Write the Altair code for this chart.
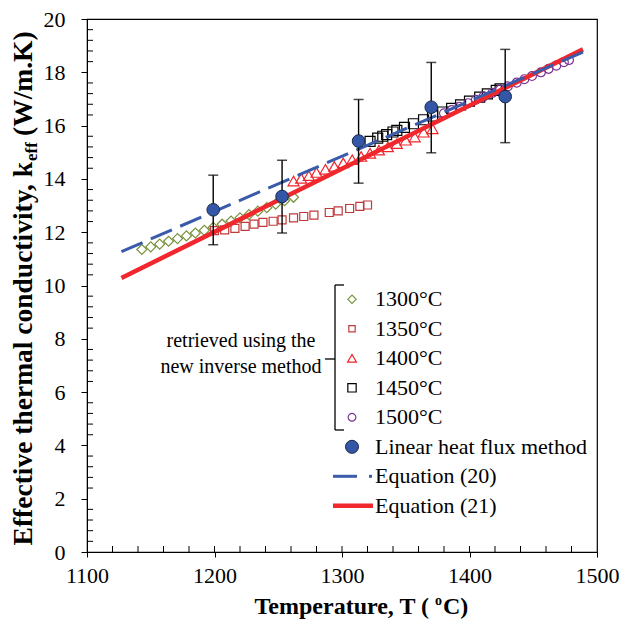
import altair as alt
import pandas as pd

# ---------------- data ----------------
T1300 = [1143, 1150, 1157, 1164, 1171, 1178, 1185, 1192, 1199, 1206, 1213, 1220, 1227, 1234, 1241, 1248, 1255, 1262]
k1300 = [11.35, 11.45, 11.55, 11.66, 11.76, 11.86, 11.97, 12.07, 12.18, 12.30, 12.42, 12.54, 12.66, 12.79, 12.92, 13.05, 13.18, 13.31]

T1350 = [1200, 1208, 1216, 1224, 1231, 1238, 1246, 1253, 1262, 1270, 1278, 1290, 1297, 1306, 1314, 1320]
k1350 = [12.06, 12.09, 12.14, 12.22, 12.30, 12.37, 12.41, 12.46, 12.54, 12.59, 12.64, 12.74, 12.80, 12.89, 12.97, 13.02]

T1400 = [1262, 1268, 1274, 1280, 1287, 1294, 1301, 1308, 1315, 1322, 1329, 1336, 1343, 1350, 1357, 1364, 1371]
k1400 = [13.92, 14.02, 14.12, 14.24, 14.36, 14.47, 14.60, 14.72, 14.84, 14.96, 15.08, 15.20, 15.32, 15.45, 15.57, 15.75, 15.88]

T1450 = [1322, 1328, 1332, 1335, 1340, 1343, 1349, 1356, 1364, 1371, 1379, 1386, 1393, 1400, 1408, 1414, 1421, 1424]
k1450 = [15.41, 15.53, 15.60, 15.66, 15.76, 15.82, 15.93, 16.07, 16.22, 16.36, 16.51, 16.65, 16.78, 16.92, 17.07, 17.19, 17.32, 17.38]

T1500 = [1380, 1386, 1392, 1399, 1405, 1411, 1418, 1424, 1430, 1437, 1443, 1449, 1456, 1462, 1468, 1474, 1478]
k1500 = [16.46, 16.58, 16.70, 16.84, 16.97, 17.09, 17.23, 17.35, 17.47, 17.61, 17.74, 17.86, 18.00, 18.13, 18.25, 18.38, 18.46]

T_lin = [1199, 1253, 1313, 1370, 1428]
k_lin = [12.84, 13.34, 15.42, 16.69, 17.09]
k_lin_lo = [11.53, 11.97, 13.84, 14.98, 15.36]
k_lin_hi = [14.14, 14.70, 16.98, 18.37, 18.86]

T_eq = [1127, 1489]
k_eq20 = [11.27, 18.76]
k_eq21 = [10.28, 18.86]

x_ticks = [1100, 1200, 1300, 1400, 1500]
y_ticks = [0, 2, 4, 6, 8, 10, 12, 14, 16, 18, 20]

leg_labels = ["1300°C", "1350°C", "1400°C", "1450°C", "1500°C",
              "Linear heat flux method", "Equation (20)", "Equation (21)"]

# ---------------- style ----------------
W, H = 510, 533
FONT = "Liberation Serif"
C1300 = "#77933C"
C1350 = "#C0393B"
C1400 = "#F0242A"
C1450 = "#000000"
C1500 = "#7B3294"
CLIN = "#3357A6"
CEQ20 = "#3A5BA9"
CEQ21 = "#F0282D"

xs = alt.Scale(domain=[1100, 1500], nice=False, zero=False)
ys = alt.Scale(domain=[0, 20], nice=False, zero=True)

xaxis = alt.Axis(values=x_ticks, format="d", title=None, grid=False, tickSize=5,
                 tickColor="black", domainColor="black", labelFont=FONT,
                 labelFontSize=22, labelColor="black", labelPadding=8, labelFlush=False)
yaxis = alt.Axis(values=y_ticks, format="d", title=None, grid=False, tickSize=6,
                 tickColor="black", domainColor="black", labelFont=FONT,
                 labelFontSize=22, labelColor="black", labelPadding=16)


def X(f="T"):
    return alt.X(f"{f}:Q", scale=xs, axis=xaxis)


def Y(f="k"):
    return alt.Y(f"{f}:Q", scale=ys, axis=yaxis)


def pts(T, k, **kw):
    return alt.Chart(pd.DataFrame({"T": T, "k": k})).mark_point(opacity=1, **kw).encode(x=X(), y=Y())


one = pd.DataFrame({"a": [0]})

layers = []

# minor ticks (inside)
x_minor = [v for v in range(1120, 1500, 20)]
layers.append(alt.Chart(pd.DataFrame({"T": x_minor})).mark_rule(color="black", strokeWidth=1).encode(
    x=X(), y=alt.value(H), y2=alt.value(H - 6)))
y_minor = [round(0.4 * i, 1) for i in range(1, 50) if i % 5 != 0]
layers.append(alt.Chart(pd.DataFrame({"k": y_minor})).mark_rule(color="black", strokeWidth=1).encode(
    y=Y(), x=alt.value(0), x2=alt.value(6)))

# scatter series
layers.append(pts(T1300, k1300, shape="diamond", size=100, filled=False, color=C1300, strokeWidth=1.2))
layers.append(pts(T1350, k1350, shape="square", size=64, filled=False, color=C1350, strokeWidth=1.2))
layers.append(pts(T1400, k1400, shape="triangle-up", size=120, filled=False, color=C1400, strokeWidth=1.2))
layers.append(pts(T1450, k1450, shape="square", size=100, filled=False, color=C1450, strokeWidth=1.2))
layers.append(pts(T1500, k1500, shape="circle", size=80, filled=False, color=C1500, strokeWidth=1.2))

# equation lines
layers.append(alt.Chart(pd.DataFrame({"T": T_eq, "k": k_eq21})).mark_line(
    color=CEQ21, strokeWidth=4.5).encode(x=X(), y=Y()))
layers.append(alt.Chart(pd.DataFrame({"T": T_eq, "k": k_eq20})).mark_line(
    color=CEQ20, strokeWidth=3, strokeDash=[23, 9]).encode(x=X(), y=Y()))

# error bars + linear heat flux points
dlin = pd.DataFrame({"T": T_lin, "k": k_lin, "lo": k_lin_lo, "hi": k_lin_hi})
layers.append(alt.Chart(dlin).mark_rule(color="black", strokeWidth=1.4).encode(
    x=X(), y=Y("lo"), y2=alt.Y2("hi:Q")))
layers.append(alt.Chart(dlin).mark_tick(orient="horizontal", color="black", thickness=1.5, size=10).encode(
    x=X(), y=Y("lo")))
layers.append(alt.Chart(dlin).mark_tick(orient="horizontal", color="black", thickness=1.5, size=10).encode(
    x=X(), y=Y("hi")))
layers.append(alt.Chart(dlin).mark_point(shape="circle", size=160, filled=True, fill=CLIN,
                                         stroke="#1B2B4B", strokeWidth=1, opacity=1).encode(x=X(), y=Y()))

# ---------------- custom legend ----------------
LX_SYM, LX_TXT = 265, 288
row_y = [280.3 + 29.5 * i for i in range(len(leg_labels))]
sym_specs = [
    dict(shape="diamond", size=70, filled=False, color=C1300, strokeWidth=1.2),
    dict(shape="square", size=40, filled=False, color=C1350, strokeWidth=1.2),
    dict(shape="triangle-up", size=80, filled=False, color=C1400, strokeWidth=1.2),
    dict(shape="square", size=70, filled=False, color=C1450, strokeWidth=1.2),
    dict(shape="circle", size=60, filled=False, color=C1500, strokeWidth=1.2),
    dict(shape="circle", size=170, filled=True, fill=CLIN, stroke="#1B2B4B", strokeWidth=1),
]
for i, spec in enumerate(sym_specs):
    layers.append(alt.Chart(one).mark_point(opacity=1, **spec).encode(
        x=alt.value(LX_SYM), y=alt.value(row_y[i])))
# equation legend lines
layers.append(alt.Chart(one).mark_rule(color=CEQ20, strokeWidth=3).encode(
    x=alt.value(246), x2=alt.value(270), y=alt.value(row_y[6])))
layers.append(alt.Chart(one).mark_rule(color=CEQ20, strokeWidth=3).encode(
    x=alt.value(282), x2=alt.value(285), y=alt.value(row_y[6])))
layers.append(alt.Chart(one).mark_rule(color=CEQ21, strokeWidth=4.5).encode(
    x=alt.value(246), x2=alt.value(286), y=alt.value(row_y[7])))
for i, lab in enumerate(leg_labels):
    layers.append(alt.Chart(one).mark_text(text=lab, font=FONT, fontSize=22, align="left",
                                           baseline="middle", color="black").encode(
        x=alt.value(LX_TXT), y=alt.value(row_y[i])))

# bracket
BX = 248
for x1, x2, y1, y2 in [(BX, BX, 266, 411), (BX, 257, 266, 266), (BX, 257, 411, 411), (238, BX, 340, 340)]:
    layers.append(alt.Chart(one).mark_rule(color="black", strokeWidth=1.3).encode(
        x=alt.value(x1), x2=alt.value(x2), y=alt.value(y1), y2=alt.value(y2)))
for txt, yy in [("retrieved using the", 322), ("new inverse method", 348)]:
    layers.append(alt.Chart(one).mark_text(text=txt, font=FONT, fontSize=20, align="center",
                                           baseline="middle", color="black").encode(
        x=alt.value(154), y=alt.value(yy)))

# ---------------- axis titles (with sub/superscript) ----------------
YT_X = -55
YK = 143  # where "k" ends (plot px)
layers.append(alt.Chart(one).mark_text(text="Effective thermal conductivity, k", font=FONT, fontSize=27.5,
                                       fontWeight="bold", angle=270, align="right", baseline="alphabetic",
                                       color="black").encode(x=alt.value(YT_X), y=alt.value(YK)))
layers.append(alt.Chart(one).mark_text(text="eff", font=FONT, fontSize=17, fontWeight="bold", angle=270,
                                       align="left", baseline="alphabetic", color="black").encode(
    x=alt.value(YT_X + 5), y=alt.value(YK - 1)))
layers.append(alt.Chart(one).mark_text(text="(W/m.K)", font=FONT, fontSize=27.5, fontWeight="bold", angle=270,
                                       align="left", baseline="alphabetic", color="black").encode(
    x=alt.value(YT_X), y=alt.value(YK - 26)))

XT_Y = 595
layers.append(alt.Chart(one).mark_text(text="Temperature, T (", font=FONT, fontSize=24, fontWeight="bold",
                                       align="right", baseline="alphabetic", color="black").encode(
    x=alt.value(342), y=alt.value(XT_Y)))
layers.append(alt.Chart(one).mark_text(text="o", font=FONT, fontSize=14, fontWeight="bold",
                                       align="left", baseline="alphabetic", color="black").encode(
    x=alt.value(348), y=alt.value(XT_Y - 9)))
layers.append(alt.Chart(one).mark_text(text="C)", font=FONT, fontSize=24, fontWeight="bold",
                                       align="left", baseline="alphabetic", color="black").encode(
    x=alt.value(356), y=alt.value(XT_Y)))

chart = alt.layer(*layers).properties(
    width=W, height=H,
    autosize=alt.AutoSizeParams(type="none"),
    padding={"left": 79, "top": 11, "right": 32, "bottom": 69},
    background="white",
).configure_view(stroke="black", strokeWidth=1.2)

chart.save("out.html", embed_options={"renderer": "svg", "actions": False})
